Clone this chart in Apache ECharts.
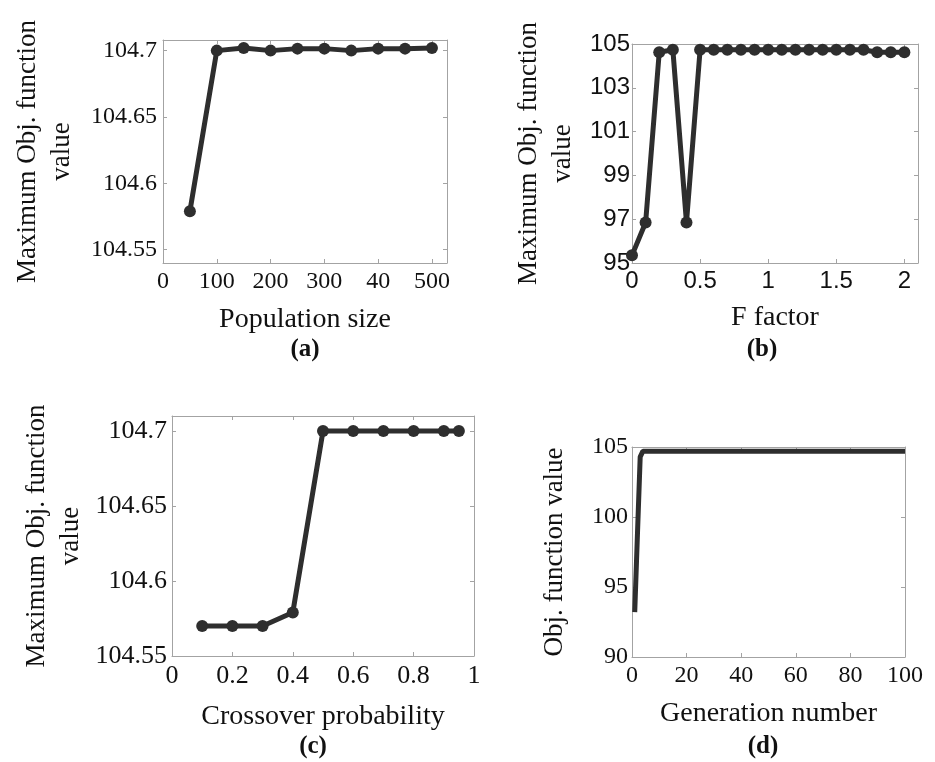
<!DOCTYPE html>
<html>
<head>
<meta charset="utf-8">
<title>DE parameter study</title>
<script src="https://cdn.jsdelivr.net/npm/echarts@6/dist/echarts.min.js"></script>
<style>
  html, body { margin: 0; padding: 0; background: #fff; }
  #chart { width: 935px; height: 762px; }
</style>
</head>
<body>
<div id="chart"></div>
<script>
// (a) population size
const popSize = [50, 100, 150, 200, 250, 300, 350, 400, 450, 500]
const popValue = [104.579, 104.700, 104.702, 104.700, 104.7015, 104.7015, 104.700, 104.7015, 104.7015, 104.702]
const popTicks = [0, 100, 200, 300, 400, 500]
const popTickText = ['0', '100', '200', '300', '40', '500']   // "40" as printed in the figure
const yTicksA = [104.55, 104.6, 104.65, 104.7]

// (b) F factor
const fFactor = [0, 0.1, 0.2, 0.3, 0.4, 0.5, 0.6, 0.7, 0.8, 0.9, 1.0, 1.1, 1.2, 1.3, 1.4, 1.5, 1.6, 1.7, 1.8, 1.9, 2.0]
const fValue = [95.35, 96.85, 104.62, 104.74, 96.85, 104.74, 104.74, 104.74, 104.74, 104.74, 104.74, 104.74, 104.74, 104.74, 104.74, 104.74, 104.74, 104.74, 104.62, 104.62, 104.62]

// (c) crossover probability
const crossProb = [0.1, 0.2, 0.3, 0.4, 0.5, 0.6, 0.7, 0.8, 0.9, 0.95]
const crossValue = [104.57, 104.57, 104.57, 104.579, 104.70, 104.70, 104.70, 104.70, 104.70, 104.70]
const yTicksC = [104.55, 104.6, 104.65, 104.7]

// (d) convergence
const genNumber = [1, 2, 3, 4, 100]
const genValue = [93.2, 98.8, 104.3, 104.7, 104.7]

const serif = 'Liberation Serif'
const sans = 'Liberation Sans'
const frameColor = '#a3a3a3'
const lineColor = '#2e2e2e'
const yName = 'Maximum Obj. function\nvalue'

function boxAxis(dim, gridIndex, o) {
  // main axis (with labels) + opposite one that only draws frame and ticks
  const base = {
    type: 'value', gridIndex: gridIndex,
    min: o.min, max: o.max, interval: o.interval,
    splitLine: {show: false},
    axisLine: {show: true, onZero: false, lineStyle: {color: frameColor, width: 1}},
    axisTick: {show: true, inside: true, length: 4, lineStyle: {color: frameColor}},
  }
  if (o.ticks) {
    base.axisTick.customValues = o.ticks
  }
  const main = Object.assign({}, base, {
    position: dim === 'x' ? 'bottom' : 'left',
    name: o.name, nameLocation: 'middle', nameGap: o.nameGap,
    nameTextStyle: {fontFamily: serif, fontSize: o.nameSize || 27, color: '#111', lineHeight: 34},
    axisLabel: {
      show: true, margin: o.margin, fontFamily: o.font || serif, fontSize: o.fontSize || 24, color: '#111',
      showMaxLabel: o.showMax !== false,
      formatter: o.formatter
    },
    axisTick: Object.assign({}, base.axisTick)
  })
  if (o.ticks) main.axisLabel.customValues = o.ticks
  const other = Object.assign({}, base, {
    position: dim === 'x' ? 'top' : 'right',
    axisLabel: {show: false}
  })
  return [main, other]
}

const grids = [
  {left: 163, top: 40, width: 284, height: 223},
  {left: 632, top: 44, width: 286, height: 219},
  {left: 172, top: 416, width: 302, height: 240},
  {left: 632, top: 447, width: 273, height: 210}
]
grids.forEach(g => { g.containLabel = false; g.outerBoundsMode = 'none' })

const xAxes = [].concat(
  boxAxis('x', 0, {min: 0, max: 528, ticks: popTicks, name: 'Population size', nameGap: 40, margin: 7,
    nameSize: 28, formatter: v => popTickText[popTicks.indexOf(v)] ?? ''}),
  boxAxis('x', 1, {min: 0, max: 2.1, interval: 0.5, name: 'F factor', nameGap: 38, margin: 6, font: sans,
    fontSize: 24, nameSize: 28, showMax: false}),
  boxAxis('x', 2, {min: 0, max: 1, interval: 0.2, name: 'Crossover probability', nameGap: 44, margin: 7,
    fontSize: 26, nameSize: 28}),
  boxAxis('x', 3, {min: 0, max: 100, interval: 20, name: 'Generation number', nameGap: 40, margin: 7,
    nameSize: 28})
)
const yAxes = [].concat(
  boxAxis('y', 0, {min: 104.54, max: 104.708, ticks: yTicksA, name: yName, nameGap: 84, margin: 6}),
  boxAxis('y', 1, {min: 95, max: 105, interval: 2, name: yName, nameGap: 52, margin: 2, font: sans,
    fontSize: 24}),
  boxAxis('y', 2, {min: 104.55, max: 104.71, ticks: yTicksC, name: yName, nameGap: 84, margin: 5,
    fontSize: 26}),
  boxAxis('y', 3, {min: 90, max: 105, interval: 5, name: 'Obj. function value', nameGap: 60, margin: 4})
)

function markerLine(xs, ys, idx) {
  return {
    type: 'line', xAxisIndex: idx * 2, yAxisIndex: idx * 2,
    data: xs.map((x, i) => [x, ys[i]]),
    symbol: 'circle', symbolSize: 12, showSymbol: true,
    itemStyle: {color: lineColor},
    lineStyle: {color: lineColor, width: 5},
    animation: false, z: 3
  }
}

const panelTitles = [['(a)', 305, 337], ['(b)', 762, 337], ['(c)', 313, 734], ['(d)', 763, 734]]

const myChart = echarts.init(document.getElementById('chart'))
const option = {
  backgroundColor: '#fff',
  animation: false,
  title: panelTitles.map(t => ({
    text: t[0], left: t[1], top: t[2], textAlign: 'center', padding: 0,
    textStyle: {fontFamily: serif, fontWeight: 'bold', fontSize: 25, color: '#111'}
  })),
  grid: grids,
  xAxis: xAxes,
  yAxis: yAxes,
  series: [
    markerLine(popSize, popValue, 0),
    markerLine(fFactor, fValue, 1),
    markerLine(crossProb, crossValue, 2),
    {
      type: 'line', xAxisIndex: 6, yAxisIndex: 6,
      data: genNumber.map((g, i) => [g, genValue[i]]),
      showSymbol: false, symbol: 'none',
      lineStyle: {color: lineColor, width: 5},
      animation: false
    }
  ]
}
myChart.setOption(option)
</script>
</body>
</html>
